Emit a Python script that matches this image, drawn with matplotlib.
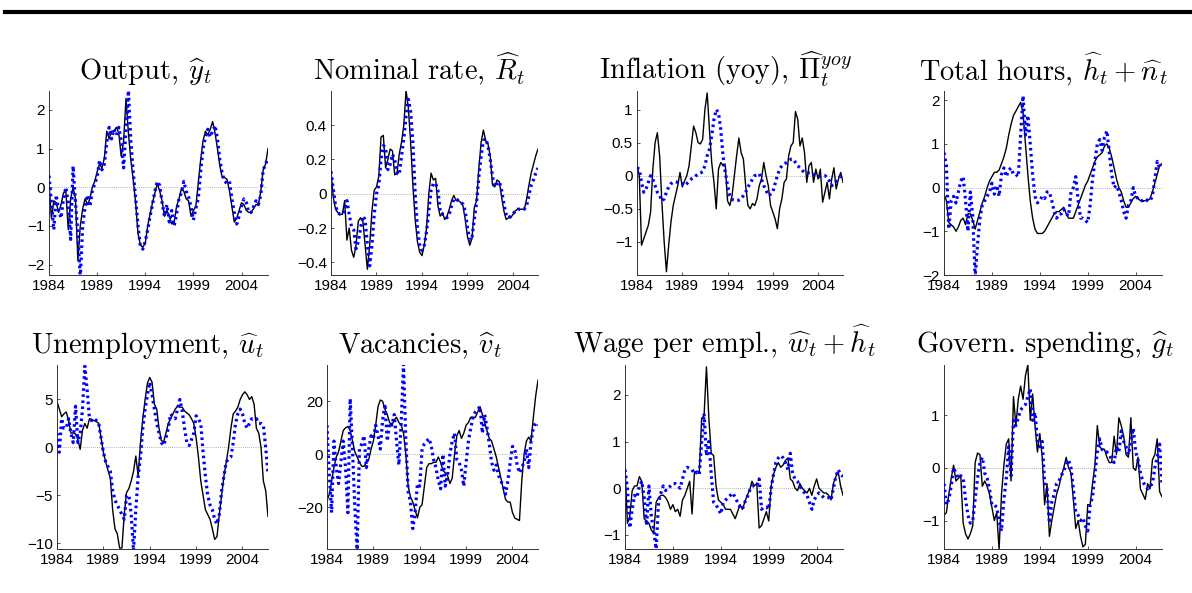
import numpy as np
import matplotlib
matplotlib.use('Agg')
import matplotlib.pyplot as plt
from matplotlib.lines import Line2D
from matplotlib.ticker import FuncFormatter

plt.rcParams['mathtext.fontset'] = 'cm'
plt.rcParams['font.family'] = ['Liberation Sans', 'DejaVu Sans']

# quarterly data, 1984Q1 .. 2006Q4 (one row per year)
output_data = [0.1, -0.8, -0.35, -0.4, -0.65, -0.45, -0.15, -0.1, -1.1, -0.3, 0.0, -0.3,
               -1.9, -1.0, -0.55, -0.3, -0.45, -0.3, 0.0, 0.15, 0.4, 0.6, 0.5, 0.75,
               1.45, 1.25, 1.45, 1.45, 1.55, 1.4, 0.8, 1.2, 2.3, 1.4, 0.7, 0.2,
               -0.4, -1.2, -1.5, -1.55, -1.45, -1.0, -0.7, -0.4, -0.15, 0.1, -0.1, -0.35,
               -0.75, -0.6, -0.75, -0.95, -0.9, -0.5, -0.3, -0.05, -0.1, -0.3, -0.35, -0.75,
               -0.6, -0.5, 0.1, 0.7, 1.2, 1.45, 1.35, 1.5, 1.7, 1.4, 1.0, 0.55,
               0.25, 0.25, 0.2, -0.1, -0.5, -0.9, -0.8, -0.6, -0.4, -0.45, -0.6, -0.65,
               -0.65, -0.55, -0.45, -0.45, -0.1, 0.45, 0.6, 1.0]
output_model = [0.3, -0.4, -1.1, -0.2, -0.6, -0.8, -0.3, 0.0, -0.4, -1.35, 0.55, -0.4,
                -1.2, -2.35, -1.0, -0.5, -0.2, -0.5, -0.1, 0.1, 0.25, 0.7, 0.45, 0.6,
                1.15, 1.55, 1.25, 1.5, 1.35, 1.55, 1.2, 0.5, 1.5, 2.5, 1.2, 0.4,
                -0.3, -1.0, -1.55, -1.6, -1.4, -1.1, -0.75, -0.45, -0.1, 0.15, 0.05, -0.4,
                -0.75, -0.45, -0.9, -0.6, -1.0, -0.7, -0.3, -0.15, 0.15, -0.1, -0.25, -0.5,
                -0.85, -0.55, -0.3, 0.4, 1.0, 1.3, 1.5, 1.3, 1.45, 1.6, 1.25, 0.7,
                0.35, 0.15, 0.1, 0.15, -0.3, -0.65, -0.95, -0.75, -0.5, -0.3, -0.4, -0.65,
                -0.65, -0.5, -0.35, -0.45, -0.2, 0.45, 0.6, 0.75]

rate_data = [0.13, -0.02, -0.09, -0.11, -0.12, -0.12, -0.04, -0.27, -0.2, -0.33, -0.37, -0.3,
             -0.16, -0.14, -0.16, -0.3, -0.44, -0.3, -0.1, 0.02, 0.04, 0.1, 0.33, 0.34,
             0.15, 0.2, 0.26, 0.25, 0.11, 0.12, 0.23, 0.3, 0.4, 0.6, 0.5, 0.3,
             0.05, -0.15, -0.28, -0.34, -0.36, -0.3, -0.2, 0.0, 0.12, 0.08, 0.09, -0.07,
             -0.13, -0.11, -0.15, -0.13, -0.09, -0.04, -0.01, -0.04, -0.04, -0.05, -0.07, -0.15,
             -0.25, -0.3, -0.26, -0.08, -0.04, 0.15, 0.3, 0.37, 0.31, 0.29, 0.22, 0.05,
             0.04, 0.08, 0.07, -0.02, -0.1, -0.15, -0.14, -0.14, -0.12, -0.1, -0.09, -0.09,
             -0.09, -0.09, -0.03, 0.05, 0.12, 0.17, 0.22, 0.26]
rate_model = [0.13, 0.03, -0.07, -0.11, -0.12, -0.12, -0.09, -0.04, -0.12, -0.19, -0.21, -0.32,
              -0.28, -0.2, -0.13, -0.15, -0.3, -0.42, -0.3, -0.12, 0.0, 0.05, 0.2, 0.28,
              0.27, 0.14, 0.17, 0.23, 0.2, 0.12, 0.11, 0.22, 0.32, 0.45, 0.55, 0.48,
              0.3, 0.0, -0.2, -0.3, -0.33, -0.3, -0.22, -0.1, 0.02, 0.06, 0.06, 0.02,
              -0.1, -0.12, -0.12, -0.14, -0.12, -0.07, -0.03, -0.03, -0.04, -0.05, -0.06, -0.1,
              -0.2, -0.27, -0.25, -0.15, -0.05, 0.1, 0.22, 0.31, 0.32, 0.28, 0.2, 0.1,
              0.04, 0.06, 0.07, 0.02, -0.06, -0.12, -0.14, -0.13, -0.12, -0.1, -0.09, -0.09,
              -0.09, -0.09, -0.07, -0.01, 0.05, 0.08, 0.12, 0.15]

infl_data = [0.15, 0.0, -1.05, -0.95, -0.85, -0.75, -0.55, 0.1, 0.5, 0.65, 0.3, -0.4,
             -1.0, -1.45, -1.05, -0.7, -0.45, -0.3, -0.15, 0.05, -0.17, -0.08, 0.0, 0.15,
             0.45, 0.75, 0.65, 0.5, 0.48, 0.55, 1.0, 1.25, 0.7, 0.2, -0.1, -0.5,
             0.1, 0.2, 0.15, 0.15, -0.38, -0.45, -0.3, 0.0, 0.3, 0.57, 0.35, 0.25,
             -0.15, -0.45, -0.5, -0.42, -0.45, -0.35, -0.15, -0.05, 0.2, 0.0, -0.15, -0.45,
             -0.55, -0.65, -0.8, -0.5, -0.35, -0.1, -0.05, 0.3, 0.45, 0.5, 0.97, 0.85,
             0.45, 0.57, 0.35, -0.1, 0.15, 0.2, -0.1, 0.1, -0.05, 0.1, -0.4, -0.25,
             -0.1, -0.35, -0.05, 0.12, -0.2, -0.05, 0.05, -0.1]
infl_model = [0.12, 0.1, -0.1, -0.25, -0.2, -0.1, 0.0, -0.05, -0.15, -0.25, -0.3, -0.38,
              -0.35, -0.25, -0.17, -0.12, -0.1, -0.09, -0.1, -0.1, -0.12, -0.15, -0.12, -0.08,
              -0.05, -0.03, 0.0, 0.02, 0.04, 0.06, 0.15, 0.3, 0.4, 0.6, 0.85, 1.0,
              0.95, 0.7, 0.3, 0.05, -0.15, -0.3, -0.36, -0.37, -0.37, -0.37, -0.35, -0.3,
              -0.25, -0.17, -0.12, -0.05, 0.0, 0.02, 0.03, -0.05, -0.15, -0.22, -0.3, -0.28,
              -0.25, -0.12, 0.0, 0.1, 0.15, 0.17, 0.2, 0.22, 0.25, 0.25, 0.2, 0.15,
              0.12, 0.08, 0.05, 0.05, 0.04, 0.03, 0.02, 0.0, -0.02, -0.01, 0.0, 0.0,
              -0.02, -0.08, -0.15, -0.13, -0.08, -0.04, 0.0, -0.02]

hours_data = [-0.15, -0.3, -0.8, -0.85, -0.9, -1.0, -0.9, -0.75, -0.7, -0.85, -0.6, -0.6,
              -0.75, -0.95, -0.75, -0.55, -0.35, -0.2, 0.0, 0.15, 0.25, 0.35, 0.35, 0.4,
              0.55, 0.7, 0.9, 1.2, 1.45, 1.65, 1.75, 1.85, 1.95, 1.7, 1.0, 0.3,
              -0.3, -0.7, -0.95, -1.05, -1.05, -1.05, -1.0, -0.9, -0.8, -0.7, -0.6, -0.55,
              -0.55, -0.5, -0.45, -0.6, -0.7, -0.7, -0.7, -0.55, -0.4, -0.25, -0.1, 0.05,
              0.15, 0.3, 0.45, 0.6, 0.7, 0.75, 0.8, 0.95, 1.0, 0.9, 0.7, 0.45,
              0.2, 0.0, -0.1, -0.3, -0.45, -0.45, -0.35, -0.25, -0.2, -0.25, -0.3, -0.3,
              -0.3, -0.3, -0.25, -0.1, 0.1, 0.3, 0.5, 0.55]
hours_model = [0.8, 0.5, -0.95, -0.3, -0.2, -0.35, -0.1, 0.15, 0.25, -0.3, -1.0, -0.1,
               -0.65, -2.05, -1.3, -0.7, -0.4, -0.3, -0.2, -0.1, 0.1, -0.15, 0.05, -0.2,
               0.3, 0.45, 0.25, 0.4, 0.45, 0.3, 0.3, 0.25, 1.2, 2.1, 1.2, 1.65,
               1.0, 0.3, -0.2, -0.35, -0.3, -0.2, -0.25, -0.1, -0.1, -0.3, -0.55, -0.7,
               -0.6, -0.6, -0.5, -0.6, -0.65, -0.1, 0.0, 0.25, -0.3, -0.7, -0.7, -0.75,
               -0.8, -0.4, 0.2, 0.6, 1.0, 1.1, 0.85, 1.15, 1.3, 0.8, 0.3, 0.0,
               0.05, -0.1, -0.3, -0.55, -0.7, -0.4, -0.3, 0.0, -0.2, -0.25, -0.3, -0.3,
               -0.25, -0.3, -0.3, -0.2, 0.2, 0.6, 0.45, 0.5]

unemp_data = [4.8, 4.0, 3.2, 3.5, 3.7, 2.8, 1.5, 1.5, 1.4, 0.8, -0.2, 1.8,
              2.5, 2.0, 3.0, 2.9, 2.8, 2.7, 2.5, 1.0, -0.5, -1.5, -2.4, -3.2,
              -6.5, -8.5, -9.0, -10.5, -10.5, -7.0, -4.7, -4.3, -3.5, -2.5, -0.9, -3.0,
              0.5, 3.0, 5.0, 6.7, 7.3, 6.8, 4.5, 4.0, 2.0, 0.7, 0.6, 1.5,
              2.5, 3.0, 3.5, 4.0, 4.3, 4.2, 4.2, 3.8, 3.6, 3.4, 3.0, 2.5,
              1.0, -1.0, -3.5, -5.0, -6.5, -7.0, -7.5, -8.5, -9.6, -9.3, -7.0, -5.0,
              -3.0, -1.5, 0.0, 2.0, 3.5, 3.8, 4.2, 5.0, 5.5, 5.8, 5.5, 5.0,
              5.3, 4.5, 2.0, 1.5, 0.0, -3.5, -4.5, -7.2]
unemp_model = [1.5, -0.5, 3.0, 2.0, 2.0, 3.0, 1.5, 0.5, 4.3, 0.5, 1.5, 4.0,
               8.5, 6.0, 3.0, 2.8, 3.0, 2.8, 2.5, 1.0, -0.5, -1.5, -2.0, -2.5,
               -4.5, -5.5, -6.0, -6.5, -7.0, -7.5, -5.0, -5.0, -7.0, -10.8, -6.5, -3.0,
               -1.0, 2.0, 4.0, 5.5, 6.8, 5.5, 4.0, 2.5, 1.5, 0.5, 0.2, 1.0,
               2.0, 3.5, 3.2, 3.0, 4.0, 5.0, 3.8, 2.0, 0.5, 0.2, 0.8, 1.5,
               3.3, 3.0, 2.5, -0.5, -3.0, -5.0, -6.0, -6.5, -7.5, -8.0, -7.0, -4.5,
               -3.0, -1.5, -1.2, -1.0, 0.5, 2.5, 3.5, 4.0, 3.5, 2.5, 2.0, 2.5,
               3.0, 3.0, 3.0, 2.5, 2.5, 2.3, 0.0, -2.7]

vac_data = [-17.5, -15, -10, -5, -1, 1, 5, 9, 10, 10.5, 9, 5,
            1, -1, -3, -4.5, -4.5, -3, -2, 2, 5, 11, 18, 20.5,
            20, 17, 15, 12, 11, 13, 14, 12, 11, 8, 0, -12,
            -16, -18, -21, -24, -20, -19, -12, -5, -3.5, -3.5, -3, -3,
            -1, -3, -6, -7, -8, -11, -9, 0, 7, 9, 6, 8,
            11, 12, 14, 14, 14, 16, 18, 15, 12, 9, 6, 5,
            2, -1, -5, -9, -13, -17, -18, -18, -22, -24, -24.5, -25,
            -10, 0, 5, 6.5, 5, 14, 22, 28]
vac_model = [11, -8, -22, 5, -5, -11, -3, 5, -5, -22, 21, 2,
             -20, -36, 2, 4, 7, -5, 2, 7, 6, 11, 7, 2,
             13, 19, 5, 12, 11, 15, 5, -4, 12, 34, 5, -14,
             -18, -28, -22, -11, -12, 2, 4, 5, 6, 3, -2, -5,
             -10, -13, 0, -12, -8, 0, 5, 8, -2, -3, -6, -12,
             -3, 5, 10, 14, 16, 17, 18, 8, 15, 10, 4, -3,
             -6, -4, -8, -10, -12, -15, -10, -3, 3, 2, -4, -7,
             -5, -3, 2, -5, 5, 10, 12, 11]

wage_data = [0.5, -0.75, -0.6, -0.05, 0.05, 0.05, 0.25, 0.15, -0.65, -0.7, -0.75, -0.9,
             -0.95, -0.3, -0.2, -0.15, -0.15, -0.2, -0.3, -0.45, -0.35, -0.5, -0.45, -0.6,
             -0.25, -0.15, 0.0, 0.15, -0.55, 0.35, 0.35, 0.35, 1.5, 1.55, 2.6, 1.5,
             0.75, 0.7, 0.05, -0.25, -0.3, -0.35, -0.45, -0.45, -0.45, -0.55, -0.65, -0.5,
             -0.35, -0.45, -0.3, -0.15, -0.05, 0.15, 0.05, 0.1, -0.85, -0.8, -0.65, -0.5,
             -0.7, 0.05, 0.3, 0.45, 0.55, 0.45, 0.5, 0.6, 0.65, 0.2, 0.15, 0.0,
             -0.05, 0.1, 0.0, -0.05, -0.1, 0.0, -0.15, 0.05, 0.2, 0.0, -0.05, -0.1,
             -0.1, -0.15, -0.25, 0.1, 0.25, 0.35, 0.05, -0.15]
wage_model = [0.4, 0.0, -0.85, -0.45, -0.15, -0.2, 0.05, 0.15, -0.2, -0.8, 0.05, -0.6,
              -0.9, -1.3, -0.3, -0.1, 0.05, -0.05, 0.0, 0.05, 0.1, 0.1, 0.05, 0.0,
              0.2, 0.4, 0.45, 0.42, 0.4, 0.3, 0.35, 0.3, 1.0, 1.6, 0.7, 1.0,
              0.3, -0.3, -0.35, -0.45, -0.55, -0.3, -0.25, -0.2, -0.15, -0.1, -0.2, -0.3,
              -0.4, -0.45, -0.3, -0.2, -0.05, 0.05, 0.05, 0.05, 0.2, -0.45, -0.4, -0.4,
              -0.45, 0.0, 0.3, 0.55, 0.65, 0.7, 0.65, 0.55, 0.4, 0.75, 0.3, 0.2,
              0.15, 0.05, -0.05, -0.1, -0.15, -0.3, -0.45, -0.25, -0.15, -0.1, -0.15, -0.2,
              -0.2, -0.2, -0.25, 0.0, 0.25, 0.4, 0.3, 0.25]

gov_data = [-0.9, -0.85, -0.5, -0.2, 0.05, -0.25, -0.2, -0.15, -1.05, -1.25, -1.35, -1.25,
            -1.1, 0.1, 0.28, 0.25, -0.35, -0.25, -0.35, -0.5, -0.75, -1.0, -0.85, -1.55,
            -0.5, 0.05, 0.45, 0.55, -0.25, 1.35, 0.8, 1.3, 1.55, 1.3, 1.75, 1.95,
            0.9, 1.4, 0.8, 0.3, 0.65, 0.2, -0.7, -0.3, -1.3, -1.0, -0.75, -0.5,
            -0.35, -0.15, 0.0, 0.2, 0.0, -0.1, -0.6, -1.15, -1.0, -1.3, -1.5, -1.45,
            -0.7, -0.7, -0.3, 0.05, 0.8, 0.4, 0.35, 0.35, 0.2, 0.1, 0.1, 0.6,
            0.25, 0.95, 0.8, 0.6, 0.25, 0.2, 0.95, 0.0, -0.05, 0.2, -0.4, -0.5,
            -0.6, -0.3, -0.4, 0.15, 0.25, 0.55, -0.45, -0.55]
gov_model = [-0.3, -0.7, -0.6, -0.35, 0.0, -0.1, -0.2, -0.15, -0.2, -0.6, -0.9, -1.05,
             -1.0, -0.6, -0.2, 0.1, 0.2, -0.1, -0.2, -0.4, -0.7, -0.7, -0.75, -1.0,
             -1.2, -0.6, -0.2, 0.4, -0.15, 0.9, 0.8, 0.95, 1.1, 1.15, 1.2, 1.35,
             1.5, 0.9, 1.05, 0.5, 0.4, 0.5, -0.3, -0.4, -1.05, -0.65, -0.5, -0.3,
             -0.25, -0.15, -0.05, 0.05, 0.15, 0.0, -0.4, -0.85, -0.9, -1.0, -0.95, -1.1,
             -1.2, -0.7, -0.55, -0.1, 0.3, 0.55, 0.35, 0.3, 0.3, 0.25, 0.15, 0.1,
             0.4, 0.3, 0.7, 0.5, 0.4, 0.25, 0.5, 0.75, 0.3, 0.15, -0.1, -0.25,
             -0.35, -0.4, -0.35, -0.3, 0.0, 0.2, 0.45, -0.3]

titles = [r'Output, $\widehat{y}_t$',
          r'Nominal rate, $\widehat{R}_t$',
          r'Inflation (yoy), $\widehat{\Pi}_t^{yoy}$',
          r'Total hours, $\widehat{h}_t+\widehat{n}_t$',
          r'Unemployment, $\widehat{u}_t$',
          r'Vacancies, $\widehat{v}_t$',
          r'Wage per empl., $\widehat{w}_t+\widehat{h}_t$',
          r'Govern. spending, $\widehat{g}_t$']
data_series = [output_data, rate_data, infl_data, hours_data,
               unemp_data, vac_data, wage_data, gov_data]
model_series = [output_model, rate_model, infl_model, hours_model,
                unemp_model, vac_model, wage_model, gov_model]
ylims = [(-2.27, 2.49), (-0.473, 0.598), (-1.5, 1.28), (-2.0, 2.21),
         (-10.6, 8.6), (-35.7, 33.7), (-1.3, 2.64), (-1.54, 1.95)]
yticks = [[-2, -1, 0, 1, 2], [-0.4, -0.2, 0, 0.2, 0.4], [-1, -0.5, 0, 0.5, 1], [-2, -1, 0, 1, 2],
          [-10, -5, 0, 5], [-20, 0, 20], [-1, 0, 1, 2], [-1, 0, 1]]
year_ticks = [1984, 1989, 1994, 1999, 2004]

# pixel layout of the original (left, right) per panel, rows (top, bottom)
W, H = 1192, 593
cols = [(49, 268), (331, 538), (637, 843), (944, 1162),
        (57, 268), (327, 538), (625, 843), (944, 1162)]
rows = [(91, 275), (365, 549)]
title_x = [145, 419, 725, 1043, 148, 420, 725, 1045]
title_base = [80, 353]

fig = plt.figure(figsize=(W / 100, H / 100), dpi=100)
fig.add_artist(Line2D([5 / W, 1.0], [1 - 12 / H, 1 - 12 / H], color='black', lw=3.0))

fmt = FuncFormatter(lambda v, p: ('%g' % v).replace('-', '\u2212'))

for i in range(8):
    l, r = cols[i]
    t, b = rows[i // 4]
    ax = fig.add_axes([l / W, 1 - b / H, (r - l) / W, (b - t) / H])
    d = np.array(data_series[i])
    m = np.array(model_series[i])
    q = 1984 + 0.25 * np.arange(len(d))
    ax.axhline(0, color='0.6', lw=0.6, ls=(0, (1, 1.5)), zorder=1)
    ax.plot(q, d, color='black', lw=1.0, zorder=2)
    ax.plot(q, m, color='blue', lw=2.3, ls=(0, (0.8, 1.1)), zorder=3)
    ax.set_xlim(1984, q[-1])
    ax.set_ylim(*ylims[i])
    ax.set_xticks(year_ticks)
    ax.set_yticks(yticks[i])
    ax.yaxis.set_major_formatter(fmt)
    for s in ['top', 'right']:
        ax.spines[s].set_visible(False)
    for s in ['left', 'bottom']:
        ax.spines[s].set_color('0.2')
        ax.spines[s].set_linewidth(0.7)
    ax.tick_params(direction='in', length=2.5, width=0.6, color='0.2',
                   labelsize=11, pad=3)
    ax.set_facecolor('none')
    fig.text(title_x[i] / W, 1 - title_base[i // 4] / H, titles[i],
             ha='center', va='baseline', fontsize=20.5, family='cmr10')

fig.savefig('out.png', dpi=100)
